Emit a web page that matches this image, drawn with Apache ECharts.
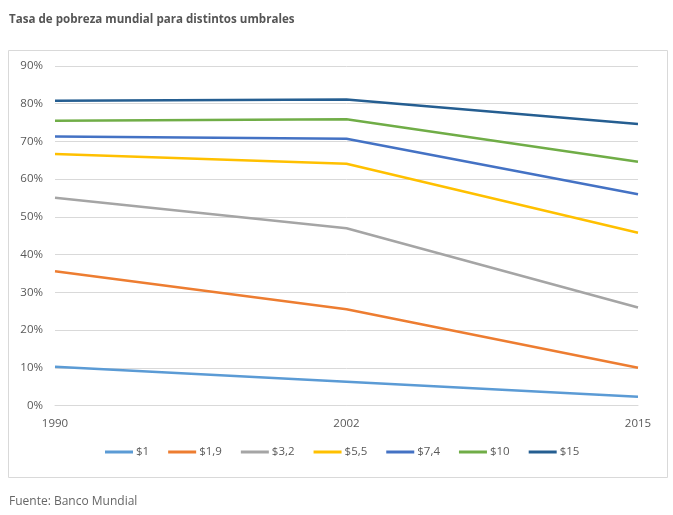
<!DOCTYPE html>
<html>
<head>
<meta charset="utf-8">
<script src="https://cdn.jsdelivr.net/npm/echarts@6/dist/echarts.min.js"></script>
<style>
html,body{margin:0;padding:0;background:#fff;}
#chart{width:673px;height:515px;}
</style>
</head>
<body>
<div id="chart"></div>
<script>
const years = ['1990', '2002', '2015'];
const seriesNames = ['$1', '$1,9', '$3,2', '$5,5', '$7,4', '$10', '$15'];
const s1 = [10.3, 6.3, 2.3];
const s19 = [35.6, 25.5, 10.0];
const s32 = [55.1, 47.0, 26.0];
const s55 = [66.7, 64.1, 45.8];
const s74 = [71.3, 70.7, 56.0];
const s10 = [75.5, 75.9, 64.6];
const s15 = [80.8, 81.1, 74.6];
const colors = ['#5B9BD5', '#ED7D31', '#A5A5A5', '#FFC000', '#4472C4', '#70AD47', '#255E91'];
const allValues = [s1, s19, s32, s55, s74, s10, s15];

const chart = echarts.init(document.getElementById('chart'));
chart.setOption({
  animation: false,
  color: colors,
  textStyle: { fontFamily: 'Open Sans, sans-serif' },
  title: [
    { text: 'Tasa de pobreza mundial para distintos umbrales', left: 4, top: 9,
      textStyle: { fontSize: 11.6, fontWeight: 'bold', color: '#555555', fontFamily: 'Open Sans, sans-serif' } },
    { text: 'Fuente: Banco Mundial', left: 4, top: 491,
      textStyle: { fontSize: 12, fontWeight: 'normal', color: '#666666', fontFamily: 'Open Sans, sans-serif' } }
  ],
  graphic: [
    { type: 'rect', shape: { x: 8.5, y: 50.5, width: 659, height: 427 },
      style: { fill: 'none', stroke: '#d9d9d9', lineWidth: 1 }, silent: true }
  ],
  grid: { left: 55, right: 35, top: 66, bottom: 109.5, containLabel: false },
  legend: {
    bottom: 52, left: 100,
    icon: 'rect', itemWidth: 28, itemHeight: 3, itemGap: 19,
    textStyle: { fontSize: 11.5, color: '#595959', padding: [0, 0, 0, -2] },
    data: seriesNames
  },
  xAxis: {
    type: 'category', data: years, boundaryGap: false,
    axisLine: { show: true, lineStyle: { color: '#d9d9d9' } },
    axisTick: { show: false },
    axisLabel: { fontSize: 11.5, color: '#595959', margin: 12 }
  },
  yAxis: {
    type: 'value', min: 0, max: 90, interval: 10,
    axisLabel: { formatter: '{value}%', fontSize: 11.5, color: '#595959', margin: 12 },
    axisLine: { show: false }, axisTick: { show: false },
    splitLine: { lineStyle: { color: '#d9d9d9', width: 1 } }
  },
  series: seriesNames.map((n, i) => ({
    name: n, type: 'line', data: allValues[i], showSymbol: false, symbol: 'none',
    lineStyle: { width: 2.5, color: colors[i] }, itemStyle: { color: colors[i] }
  }))
});
</script>
</body>
</html>
